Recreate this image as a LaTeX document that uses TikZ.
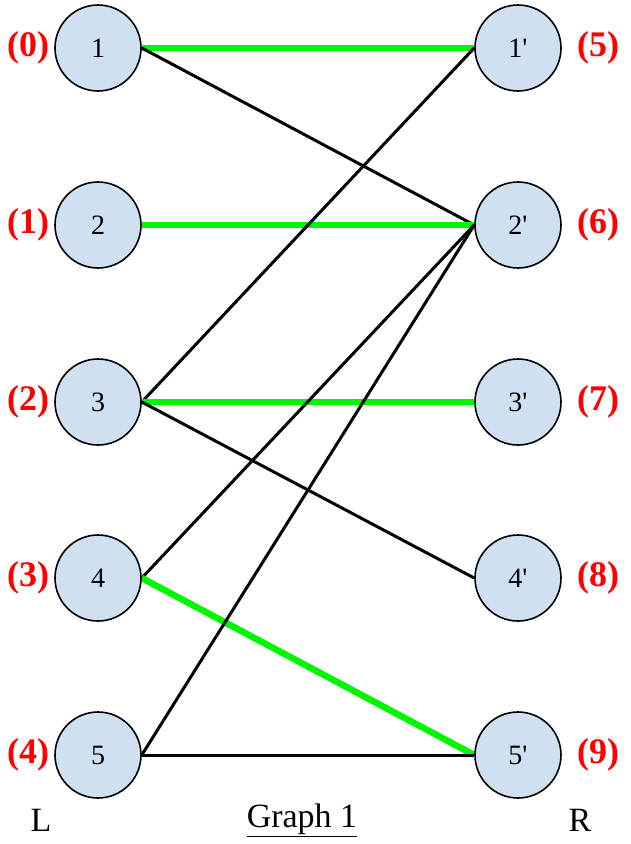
\documentclass[tikz,border=0pt]{standalone}
\usepackage{fontspec}
\setmainfont{Liberation Serif}
\newfontfamily\vfont{Liberation Serif}
\usetikzlibrary{backgrounds}
\definecolor{nodefill}{RGB}{207,224,241}
\definecolor{edgegreen}{RGB}{0,245,0}
\definecolor{labred}{RGB}{255,0,0}
\tikzset{
  vtx/.style={circle, draw=black, line width=1.6pt, fill=nodefill, minimum size=86pt, inner sep=0pt, font=\vfont\fontsize{28}{30}\selectfont},
  idx/.style={text=labred, font=\fontsize{36}{40}\selectfont\bfseries, inner sep=0pt},
  captext/.style={font=\fontsize{34}{36}\selectfont, inner sep=0pt},
  plain/.style={draw=black, line width=3pt},
  match/.style={draw=edgegreen, line width=6.5pt}
}
\begin{document}
\begin{tikzpicture}[x=1pt,y=-1pt]
\useasboundingbox (0,0) rectangle (630,844);
% left vertices
\node[vtx] (l1) at (98,48) {1};
\node[vtx] (l2) at (98,225) {2};
\node[vtx] (l3) at (98,402) {3};
\node[vtx] (l4) at (98,578) {4};
\node[vtx] (l5) at (98,755) {5};
% right vertices
\node[vtx] (r1) at (518,48) {1'};
\node[vtx] (r2) at (518,225) {2'};
\node[vtx] (r3) at (518,402) {3'};
\node[vtx] (r4) at (518,578) {4'};
\node[vtx] (r5) at (518,755) {5'};
% index labels
\node[idx] (i0) at (28,48) {(0)};
\node[idx] (i1) at (28,225) {(1)};
\node[idx] (i2) at (28,402) {(2)};
\node[idx] (i3) at (28,578) {(3)};
\node[idx] (i4) at (28,755) {(4)};
\node[idx] (i5) at (598,48) {(5)};
\node[idx] (i6) at (598,225) {(6)};
\node[idx] (i7) at (598,402) {(7)};
\node[idx] (i8) at (598,578) {(8)};
\node[idx] (i9) at (598,755) {(9)};
% captions
\node[captext] (capL) at (41,820) {L};
\node[captext] (capG) at (302,820) {\underline{Graph 1}};
\node[captext] (capR) at (580,820) {R};
% edges
\begin{scope}[on background layer]
\fill[white] (0,0) rectangle (630,844);
\draw[match] (l1.east) -- (r1.west);
\draw[plain] (l1.east) -- (r2.west);
\draw[match] (l2.east) -- (r2.west);
\draw[plain] (l3.east) -- (r1.west);
\draw[match] (l3.east) -- (r3.west);
\draw[plain] (l3.east) -- (r4.west);
\draw[plain] (l4.east) -- (r2.west);
\draw[match] (l4.east) -- (r5.west);
\draw[plain] (l5.east) -- (r2.west);
\draw[plain] (l5.east) -- (r5.west);
\end{scope}
\end{tikzpicture}
\end{document}
